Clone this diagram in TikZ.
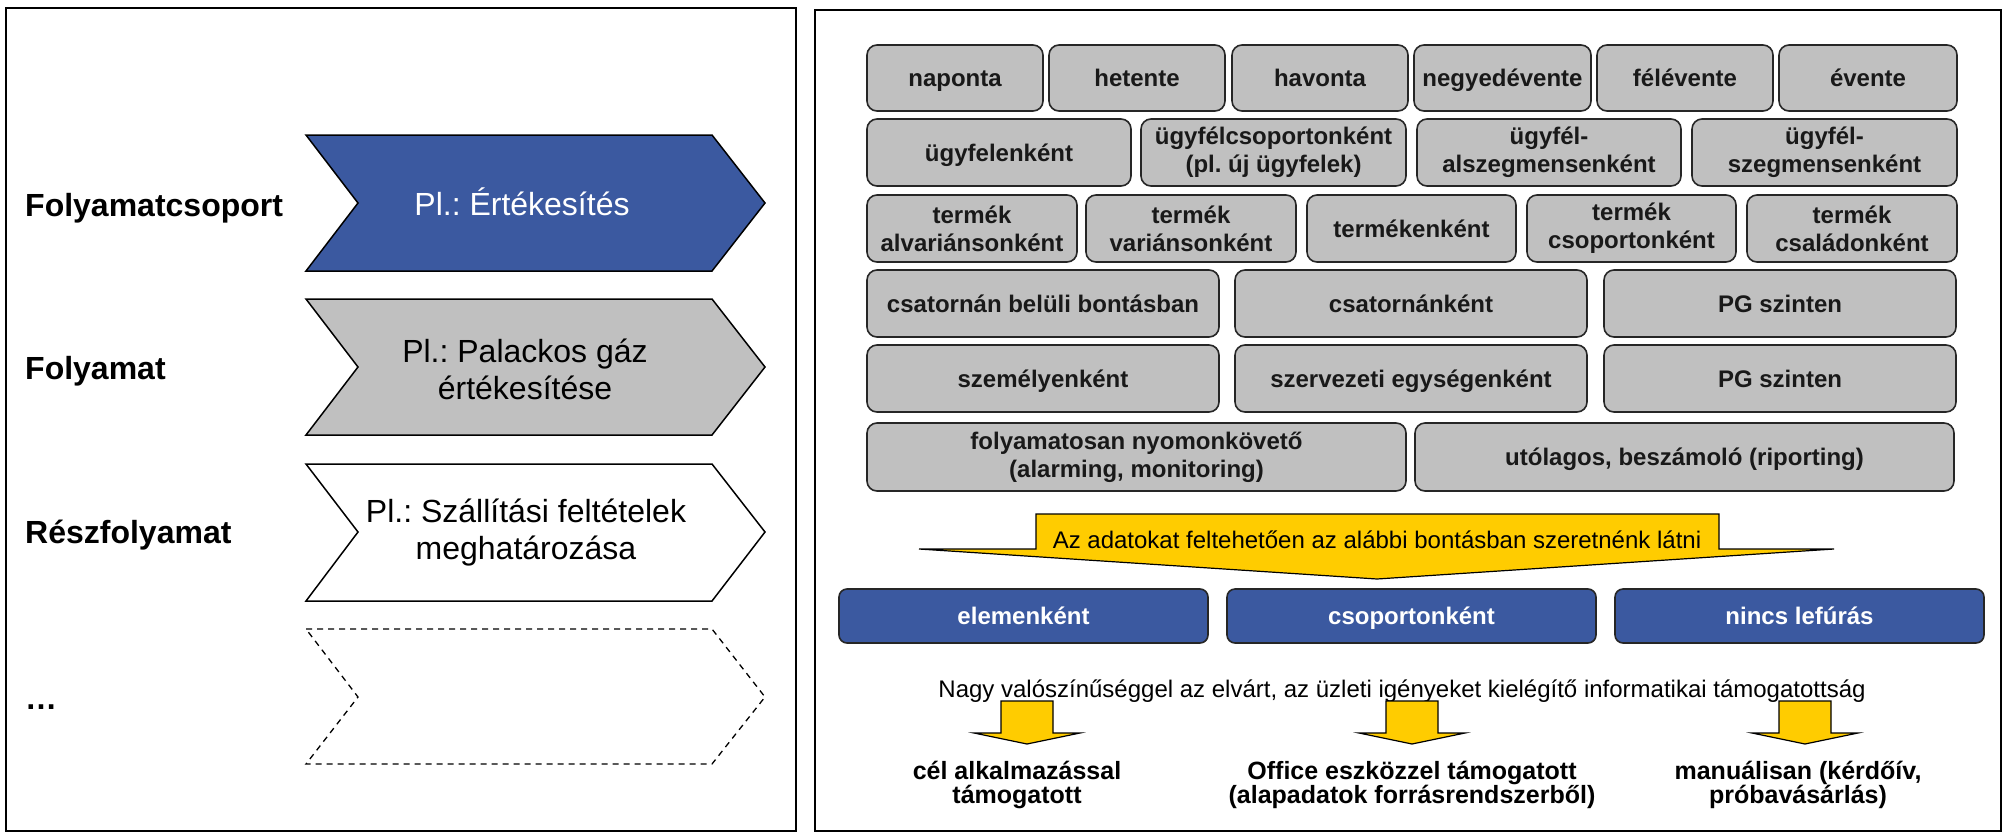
\documentclass[tikz,border=0pt]{standalone}
\usepackage{fontspec}
\setmainfont{Liberation Sans}
\frenchspacing
\definecolor{pgblue}{RGB}{59,89,160}
\definecolor{boxgray}{RGB}{192,192,192}
\definecolor{arrowyellow}{RGB}{255,204,0}
\newcommand{\mybox}[7]{\node[#1, minimum width={(#4-#3)*1pt}, minimum height={(#6-#5)*1pt}] (#2) at ({(#3+#4)/2},{(#5+#6)/2}) {#7};}
\newcommand{\sarrow}[1]{\draw[yarrow] ({#1-26},701) -- ({#1+26},701) -- ({#1+26},733) -- ({#1+53},733) -- (#1,744) -- ({#1-53},733) -- ({#1-26},733) -- cycle;}
\begin{document}
\begin{tikzpicture}[x=1pt,y=-1pt,
  panel/.style={draw=black, line width=2pt},
  chev/.style={draw=black, line width=1.5pt, line join=miter},
  lbl/.style={font=\fontsize{32}{37}\selectfont\bfseries, anchor=base west, inner sep=0pt},
  chevtxt/.style={font=\fontsize{32}{37}\selectfont, align=center, inner sep=0pt},
  box/.style={draw=black!85, line width=1.6pt, rounded corners=10pt, fill=boxgray, font=\fontsize{24}{28}\selectfont\bfseries, align=center, inner sep=0pt, text=black!90},
  one/.style={box, text height=17pt, text depth=0pt},
  bluebox/.style={draw=black!85, line width=1.6pt, rounded corners=8pt, fill=pgblue, font=\fontsize{24}{28}\selectfont\bfseries, text=white, inner sep=0pt, text height=17pt, text depth=0pt},
  yarrow/.style={draw=black, line width=1.2pt, fill=arrowyellow, line join=miter},
  restxt/.style={font=\fontsize{25}{24}\selectfont\bfseries, align=center, inner sep=0pt},
  plain/.style={font=\fontsize{24}{28}\selectfont, inner sep=0pt, anchor=base}]

\useasboundingbox (0,0) rectangle (2004,833);
\fill[white] (0,0) rectangle (2004,833);
\draw[panel] (6,8) rectangle (796,831);
\draw[panel] (815,10) rectangle (2001,831);

% left chevrons
\draw[chev, fill=pgblue] (306,135) -- (712,135) -- (765,203) -- (712,271) -- (306,271) -- (358,203) -- cycle;
\draw[chev, fill=boxgray] (306,299) -- (712,299) -- (765,367) -- (712,435) -- (306,435) -- (358,367) -- cycle;
\draw[chev, fill=white] (306,464) -- (712,464) -- (765,532) -- (712,601) -- (306,601) -- (358,532) -- cycle;
\draw[chev, dashed, dash pattern=on 6pt off 5pt, line width=1.3pt] (306,629) -- (712,629) -- (765,697) -- (712,764) -- (306,764) -- (358,697) -- cycle;

\node[chevtxt, text=white, anchor=base] (c1) at (522,215) {Pl.: Értékesítés};
\node[chevtxt] (c2) at (525,369) {Pl.: Palackos gáz\\értékesítése};
\node[chevtxt] (c3) at (526,533) {Pl.: Szállítási feltételek\\meghatározása};

\node[lbl] (l1) at (25,216) {Folyamatcsoport};
\node[lbl] (l2) at (25,379) {Folyamat};
\node[lbl] (l3) at (25,543) {Részfolyamat};
\node[lbl] (l4) at (25,709) {…};

% right panel rows
\mybox{one}{r1a}{867}{1043}{45}{111}{naponta}
\mybox{one}{r1b}{1049}{1225}{45}{111}{hetente}
\mybox{one}{r1c}{1232}{1408}{45}{111}{havonta}
\mybox{one}{r1d}{1414}{1591}{45}{111}{negyedévente}
\mybox{one}{r1e}{1597}{1773}{45}{111}{félévente}
\mybox{one}{r1f}{1779}{1957}{45}{111}{évente}

\mybox{one}{r2a}{867}{1131}{119}{186}{ügyfelenként}
\mybox{box}{r2b}{1141}{1406}{119}{186}{ügyfélcsoportonként\\(pl. új ügyfelek)}
\mybox{box}{r2c}{1417}{1681}{119}{186}{ügyfél-\\alszegmensenként}
\mybox{box}{r2d}{1692}{1957}{119}{186}{ügyfél-\\szegmensenként}

\mybox{box}{r3a}{867}{1077}{195}{262}{termék\\alvariánsonként}
\mybox{box}{r3b}{1086}{1296}{195}{262}{termék\\variánsonként}
\mybox{one}{r3c}{1307}{1516}{195}{262}{termékenként}
\mybox{box}{r3d}{1527}{1736}{195}{262}{termék\\csoportonként}
\mybox{box}{r3e}{1747}{1957}{195}{262}{termék\\családonként}

\mybox{one}{r4a}{867}{1219}{270}{337}{csatornán belüli bontásban}
\mybox{one}{r4b}{1235}{1587}{270}{337}{csatornánként}
\mybox{one}{r4c}{1604}{1956}{270}{337}{PG szinten}

\mybox{one}{r5a}{867}{1219}{345}{412}{személyenként}
\mybox{one}{r5b}{1235}{1587}{345}{412}{szervezeti egységenként}
\mybox{one}{r5c}{1604}{1956}{345}{412}{PG szinten}

\mybox{box}{r6a}{867}{1406}{423}{491}{folyamatosan nyomonkövető\\(alarming, monitoring)}
\mybox{one}{r6b}{1415}{1954}{423}{491}{utólagos, beszámoló (riporting)}

% big yellow arrow
\draw[yarrow] (1036,514) -- (1719,514) -- (1719,549) -- (1834,549) -- (1377,579) -- (919,549) -- (1036,549) -- cycle;
\node[plain] (bigtxt) at (1377,548) {Az adatokat feltehetően az alábbi bontásban szeretnénk látni};

% blue boxes
\mybox{bluebox}{b1}{839}{1208}{589}{643}{elemenként}
\mybox{bluebox}{b2}{1227}{1596}{589}{643}{csoportonként}
\mybox{bluebox}{b3}{1615}{1984}{589}{643}{nincs lefúrás}

\node[plain] (nagy) at (1402,697) {Nagy valószínűséggel az elvárt, az üzleti igényeket kielégítő informatikai támogatottság};

\sarrow{1027}
\sarrow{1412}
\sarrow{1805}

\node[restxt] (o1) at (1017,785) {cél alkalmazással\\támogatott};
\node[restxt] (o2) at (1412,785) {Office eszközzel támogatott\\(alapadatok forrásrendszerből)};
\node[restxt] (o3) at (1798,785) {manuálisan (kérdőív,\\próbavásárlás)};
\end{tikzpicture}
\end{document}
